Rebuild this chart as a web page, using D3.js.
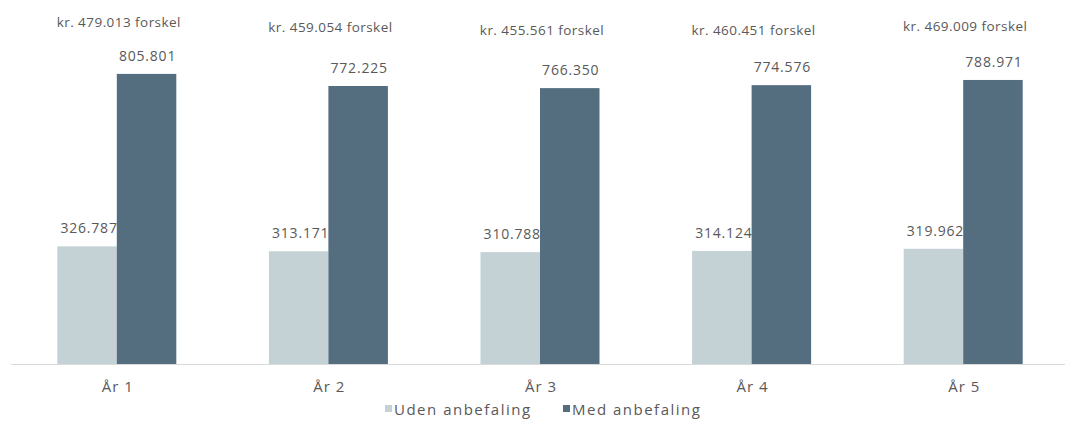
<!DOCTYPE html>
<html>
<head>
<meta charset="utf-8">
<script src="https://cdn.jsdelivr.net/npm/d3@7"></script>
<style>
  html, body { margin: 0; padding: 0; background: #ffffff; }
  svg { display: block; font-family: "Open Sans", "Noto Sans", sans-serif; }
</style>
</head>
<body>
<svg id="chart" width="1065" height="424"></svg>
<script>
// Years and the two scenarios compared each year
const years = ["År 1", "År 2", "År 3", "År 4", "År 5"];
const seriesNames = ["Uden anbefaling", "Med anbefaling"];
const udenValues = [326787, 313171, 310788, 314124, 319962];
const medValues = [805801, 772225, 766350, 774576, 788971];
const differenceLabels = [
  "kr. 479.013 forskel",
  "kr. 459.054 forskel",
  "kr. 455.561 forskel",
  "kr. 460.451 forskel",
  "kr. 469.009 forskel"
];
// the difference boxes sit at slightly different heights above each year
const differenceOffsets = [0, 5, 8, 8, 4];

const colors = ["#c4d1d5", "#546e80"];
const textColor = "#595959";

const svg = d3.select("#chart");
const baseline = 364;

const x = d3.scaleBand().domain(years).range([11, 1069]).paddingInner(0).paddingOuter(0);
const inner = d3.scaleBand().domain(seriesNames).range([0, 119]);
const y = d3.scaleLinear().domain([0, 900000]).range([baseline, 40]);

const groupLeft = d => x(d) + (x.bandwidth() - inner.range()[1]) / 2;
const fmt = v => d3.format(",")(v).replace(/,/g, ".");

const rows = years.map((yr, i) => ({ year: yr, uden: udenValues[i], med: medValues[i], diff: differenceLabels[i], off: differenceOffsets[i] }));

// category axis line
svg.append("line")
  .attr("x1", 11).attr("x2", 1065)
  .attr("y1", baseline + 0.5).attr("y2", baseline + 0.5)
  .attr("stroke", "#d9d9d9").attr("stroke-width", 1);

// light bars
svg.append("g").selectAll("rect").data(rows).join("rect")
  .attr("x", d => groupLeft(d.year) + inner(seriesNames[0]))
  .attr("y", d => y(d.uden))
  .attr("width", inner.bandwidth())
  .attr("height", d => baseline - y(d.uden))
  .attr("fill", colors[0]);

// light bar labels (partly tucked under the dark bars)
svg.append("g").selectAll("text").data(rows).join("text")
  .attr("x", d => groupLeft(d.year) + inner(seriesNames[0]) + inner.bandwidth() / 2 + 2)
  .attr("y", d => y(d.uden) - 13)
  .attr("text-anchor", "middle")
  .attr("font-size", 14)
  .attr("letter-spacing", 0.8)
  .attr("fill", textColor)
  .text(d => fmt(d.uden));

// dark bars
svg.append("g").selectAll("rect").data(rows).join("rect")
  .attr("x", d => groupLeft(d.year) + inner(seriesNames[1]))
  .attr("y", d => y(d.med))
  .attr("width", inner.bandwidth())
  .attr("height", d => baseline - y(d.med))
  .attr("fill", colors[1]);

// dark bar labels
svg.append("g").selectAll("text").data(rows).join("text")
  .attr("x", d => groupLeft(d.year) + inner(seriesNames[1]) + inner.bandwidth() / 2 + 1)
  .attr("y", d => y(d.med) - 13)
  .attr("text-anchor", "middle")
  .attr("font-size", 14)
  .attr("letter-spacing", 0.8)
  .attr("fill", textColor)
  .text(d => fmt(d.med));

// difference annotations
svg.append("g").selectAll("text").data(rows).join("text")
  .attr("x", d => x(d.year) + x.bandwidth() / 2 + 2)
  .attr("y", d => 27 + d.off)
  .attr("text-anchor", "middle")
  .attr("font-size", 13.5)
  .attr("letter-spacing", 0.45)
  .attr("fill", textColor)
  .text(d => d.diff);

// category labels
svg.append("g").selectAll("text").data(years).join("text")
  .attr("x", d => x(d) + x.bandwidth() / 2 + 1)
  .attr("y", 392)
  .attr("text-anchor", "middle")
  .attr("font-size", 15)
  .attr("letter-spacing", 1)
  .attr("fill", textColor)
  .text(d => d);

// legend
const legendItems = [
  { name: seriesNames[0], color: colors[0], x: 385 },
  { name: seriesNames[1], color: colors[1], x: 563 }
];
const lg = svg.append("g").selectAll("g").data(legendItems).join("g")
  .attr("transform", d => `translate(${d.x},409)`);
lg.append("rect")
  .attr("x", 0).attr("y", -4).attr("width", 7).attr("height", 7)
  .attr("fill", d => d.color);
lg.append("text")
  .attr("x", 9).attr("y", 5.5)
  .attr("font-size", 15)
  .attr("letter-spacing", 1.5)
  .attr("fill", textColor)
  .text(d => d.name);
</script>
</body>
</html>
